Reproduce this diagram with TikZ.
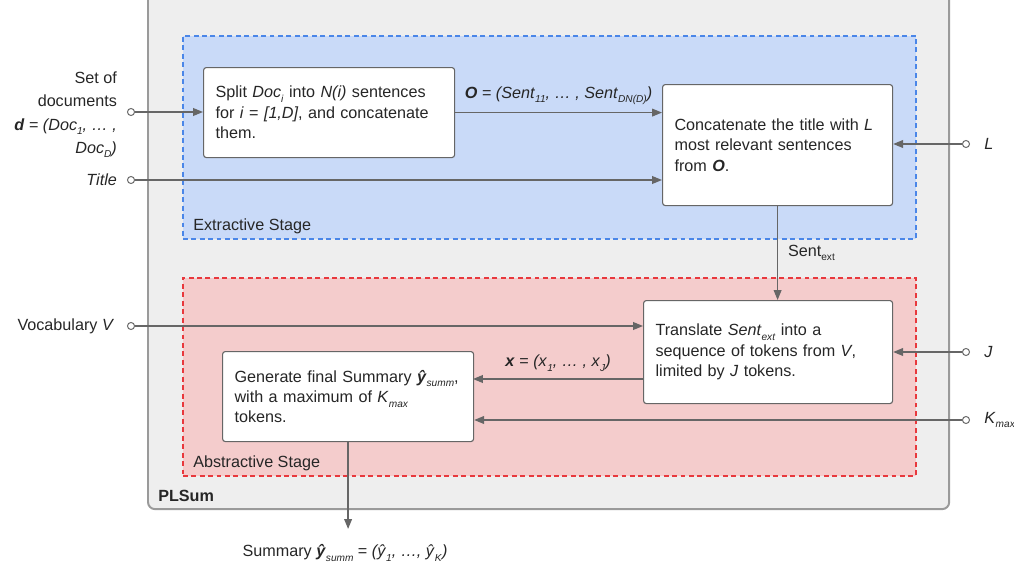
\documentclass[tikz,border=0pt]{standalone}
\usepackage{fontspec}
\setmainfont{Liberation Sans}
\usetikzlibrary{arrows.meta,positioning}
\definecolor{plgray}{HTML}{EEEEEE}
\definecolor{plframe}{HTML}{9A9A9A}
\definecolor{extfill}{HTML}{C9DAF8}
\definecolor{extline}{HTML}{4A86E8}
\definecolor{absfill}{HTML}{F4CCCC}
\definecolor{absline}{HTML}{E8383D}
\definecolor{wire}{HTML}{666666}
\newcommand{\lo}[1]{\raisebox{-3.2pt}{\fontsize{7.2}{8}\selectfont\textit{#1}}}
\newcommand{\loup}[1]{\raisebox{-3.2pt}{\fontsize{7.2}{8}\selectfont #1}}
\tikzset{
	txt/.style={font=\fontsize{11.5}{14.5}\selectfont, text=black!85, inner sep=0pt},
	stepbox/.style={txt, draw=wire, fill=white, line width=0.8pt, rounded corners=2pt,
		anchor=north west, align=left, inner xsep=0.3cm, inner ysep=0pt},
	stage/.style={anchor=north west, inner sep=0pt, dash pattern=on 3.5pt off 2.5pt, line width=1.1pt},
	dot/.style={circle, draw=wire, fill=white, line width=0.7pt, minimum size=5pt, inner sep=0pt},
	wireto/.style={draw=wire, line width=0.9pt, -{Triangle[length=7pt,width=5.5pt]}}
}

\begin{document}
\begin{tikzpicture}[x=0.025cm, y=-0.025cm]
			%%%%% START %%%%%
			\useasboundingbox (0, 0) rectangle (1014, 572);
			
			\node[anchor=north west, inner sep=0pt, fill=plgray, draw=plframe, line width=1.4pt, rounded corners=5pt,
				minimum width=20.025cm, minimum height=12.9cm] (plsum) at (147, -8) {};
			\node[stage, fill=extfill, draw=extline, minimum width=18.325cm, minimum height=5.075cm] (ext) at (182, 35) {};
			\node[stage, fill=absfill, draw=absline, minimum width=18.325cm, minimum height=4.95cm] (abs) at (182, 277) {};
			
			\node[txt, anchor=south west] (extlab) at ([shift={(11, -5)}]ext.south west) {Extractive Stage};
			\node[txt, anchor=south west] (abslab) at ([shift={(11, -5)}]abs.south west) {Abstractive Stage};
			\node[txt, anchor=south west, font=\fontsize{11.5}{14.5}\selectfont\bfseries] (plsumlab) at ([shift={(11, -8)}]plsum.south west) {PLSum};
			
			%% boxes
			\node[stepbox, text width=5.675cm, minimum height=2.25cm] (split) at (203, 67)
				{Split \textit{Doc}\lo{i} into \textit{N(i)} sentences\\for \textit{i} = \textit{[1,D]}, and concatenate\\them.};
			\node[stepbox, text width=5.15cm, minimum height=3.025cm] (concat) at (662, 84)
				{Concatenate the title with \textit{L}\\most relevant sentences\\from \textbf{\textit{O}}.};
			\node[stepbox, text width=5.625cm, minimum height=2.575cm] (transl) at (643, 300)
				{Translate \textit{Sent}\lo{ext} into a\\sequence of tokens from \textit{V},\\limited by \textit{J} tokens.};
			\node[stepbox, text width=5.675cm, minimum height=2.25cm] (gen) at (222, 351)
				{\makebox[\linewidth][l]{Generate final Summary \textbf{\textit{ŷ}}\lo{summ},}\\with a maximum of \textit{K}\lo{max}\\tokens.};
			
			%% inputs
			\node[dot] (dotD) at (131, 112) {};
			\node[dot] (dotT) at (131, 180) {};
			\node[dot] (dotV) at (131, 326) {};
			\node[dot] (dotL) at (966, 144) {};
			\node[dot] (dotJ) at (966, 352) {};
			\node[dot] (dotK) at (966, 420) {};
			
			\node[txt, left=7pt of dotD, yshift=-2pt, align=right, font=\fontsize{11.5}{16.5}\selectfont] (docs)
				{Set of\\documents\\\textbf{\textit{d}} = \textit{(Doc}\lo{1}\textit{, … ,}\\\textit{Doc}\lo{D}\textit{)}};
			\node[txt, left=7pt of dotT] (title) {\textit{Title}};
			\node[txt, left=9pt of dotV] (vocab) {Vocabulary \textit{V}};
			\node[txt, right=10pt of dotL] (inL) {\textit{L}};
			\node[txt, right=10pt of dotJ] (inJ) {\textit{J}};
			\node[txt, right=10pt of dotK] (inK) {\textit{K}\lo{max}};
			
			\node[txt] (summ) at (345, 553) {Summary \textbf{\textit{ŷ}}\lo{summ} = \textit{(ŷ}\lo{1}\textit{, …, ŷ}\lo{K}\textit{)}};
			\coordinate (xin) at (473, 379);
			
			%% connectors
			\draw[wireto] (dotD) -- (dotD -| split.west);
			\draw[wireto] (dotT) -- (dotT -| concat.west);
			\draw[wireto] (split) -- (split -| concat.west)
				node[txt, midway, above=5pt] (olab) {\textbf{\textit{O}} = \textit{(Sent}\lo{11}\textit{, … , Sent}\lo{DN(D)}\textit{)}};
			\draw[wireto] (dotL) -- (dotL -| concat.east);
			\draw[wireto] (concat.south) -- (concat.south |- transl.north)
				node[txt, midway, right=7pt] (sentlab) {Sent\loup{ext}};
			\draw[wireto] (dotV) -- (dotV -| transl.west);
			\draw[wireto] (dotJ) -- (dotJ -| transl.east);
			\draw[wireto] (xin -| transl.west) -- (xin)
				node[txt, midway, above=5pt] (xlab) {\textbf{\textit{x}} = \textit{(x}\lo{1}\textit{, … , x}\lo{J}\textit{)}};
			\draw[wireto] (dotK) -- (dotK -| gen.east);
			\draw[wireto] (gen.south) -- ([yshift=11pt]gen.south |- summ.north);
			
			%%%%% END %%%%%
		\end{tikzpicture}
\end{document}
